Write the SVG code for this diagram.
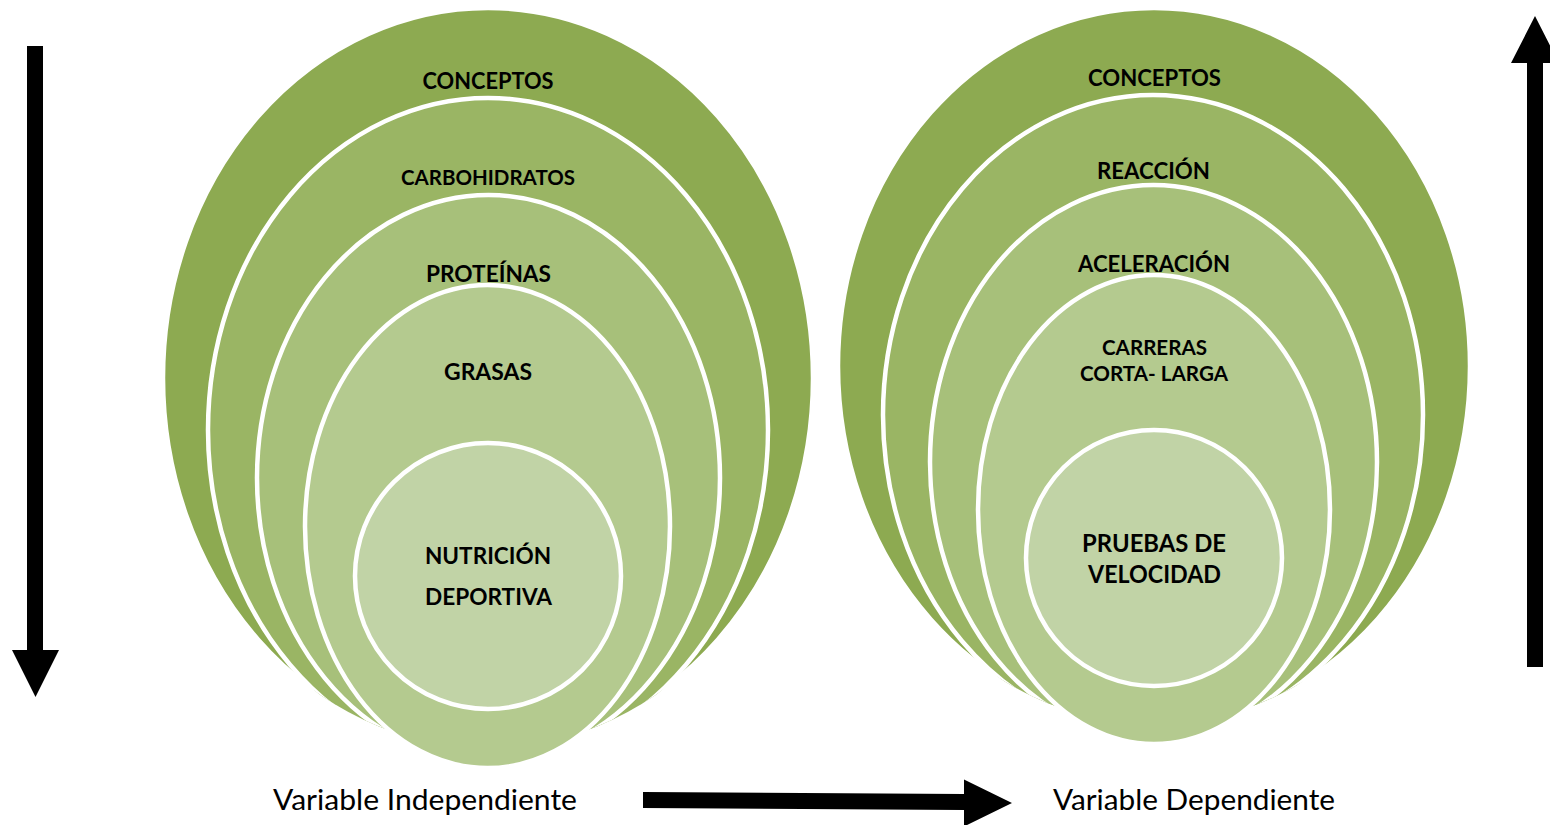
<svg xmlns="http://www.w3.org/2000/svg" width="1550" height="825" viewBox="0 0 1550 825">
  <style>
    .ring { stroke: #FFFFFF; stroke-width: 4.5; }
    .c1 { fill: #8DAA51; }
    .c2 { fill: #9AB564; }
    .c3 { fill: #A7C07A; }
    .c4 { fill: #B4CA8F; }
    .c5 { fill: #C1D3A6; }
    .t { font-family: Lato, "Liberation Sans", sans-serif; font-weight: bold; fill: #000000; text-anchor: middle; }
    .s21 { font-size: 21px; }
    .s23 { font-size: 23px; }
    .s25 { font-size: 24.5px; }
    .lbl { font-family: Lato, "Liberation Sans", sans-serif; font-size: 28px; fill: #000000; }
    .arrow { fill: #000000; }
  </style>
  <defs>
    <clipPath id="clipL">
      <ellipse cx="488" cy="378" rx="325" ry="370"/>
    </clipPath>
    <clipPath id="clipR">
      <ellipse cx="1154" cy="366" rx="316" ry="358"/>
    </clipPath>
  </defs>
  <rect width="1550" height="825" fill="#FFFFFF"/>

  <!-- Left stack -->
  <g id="left-conceptos">
    <ellipse class="ring c1" cx="488" cy="378" rx="325" ry="370"/>
    <text class="t s23" x="488" y="89" textLength="131" lengthAdjust="spacingAndGlyphs">CONCEPTOS</text>
  </g>
  <g id="left-carbohidratos" clip-path="url(#clipL)">
    <ellipse class="ring c2" cx="488" cy="430" rx="280" ry="332"/>
    <text class="t s21" x="488" y="185" textLength="174" lengthAdjust="spacingAndGlyphs">CARBOHIDRATOS</text>
  </g>
  <g id="left-proteinas" clip-path="url(#clipL)">
    <ellipse class="ring c3" cx="488.5" cy="478" rx="231.5" ry="283"/>
    <text class="t s23" x="488.5" y="282" textLength="125" lengthAdjust="spacingAndGlyphs">PROTEÍNAS</text>
  </g>
  <g id="left-grasas">
    <ellipse class="ring c4" cx="487.5" cy="526.5" rx="182.5" ry="241.5"/>
    <text class="t s23" x="488" y="380" textLength="88" lengthAdjust="spacingAndGlyphs">GRASAS</text>
  </g>
  <g id="left-nutricion">
    <circle class="ring c5" cx="488" cy="576" r="133"/>
    <text class="t s23" x="488" y="564" textLength="126" lengthAdjust="spacingAndGlyphs">NUTRICIÓN</text>
    <text class="t s23" x="488.5" y="605" textLength="127" lengthAdjust="spacingAndGlyphs">DEPORTIVA</text>
  </g>

  <!-- Right stack -->
  <g id="right-conceptos">
    <ellipse class="ring c1" cx="1154" cy="366" rx="316" ry="358"/>
    <text class="t s23" x="1154.5" y="86" textLength="133" lengthAdjust="spacingAndGlyphs">CONCEPTOS</text>
  </g>
  <g id="right-reaccion" clip-path="url(#clipR)">
    <ellipse class="ring c2" cx="1153" cy="415" rx="270" ry="320"/>
    <text class="t s23" x="1153.5" y="179" textLength="113" lengthAdjust="spacingAndGlyphs">REACCIÓN</text>
  </g>
  <g id="right-aceleracion" clip-path="url(#clipR)">
    <ellipse class="ring c3" cx="1153.5" cy="462" rx="223.5" ry="277"/>
    <text class="t s23" x="1154" y="272" textLength="152" lengthAdjust="spacingAndGlyphs">ACELERACIÓN</text>
  </g>
  <g id="right-carreras">
    <ellipse class="ring c4" cx="1154" cy="509.5" rx="176" ry="234.5"/>
    <text class="t s21" x="1154.5" y="355" textLength="105" lengthAdjust="spacingAndGlyphs">CARRERAS</text>
    <text class="t s21" x="1154" y="381" textLength="148" lengthAdjust="spacingAndGlyphs">CORTA- LARGA</text>
  </g>
  <g id="right-pruebas">
    <circle class="ring c5" cx="1154" cy="558" r="128"/>
    <text class="t s25" x="1154" y="552" textLength="144" lengthAdjust="spacingAndGlyphs">PRUEBAS DE</text>
    <text class="t s25" x="1154.5" y="583" textLength="133" lengthAdjust="spacingAndGlyphs">VELOCIDAD</text>
  </g>

  <!-- Bottom labels -->
  <g id="label-independiente">
    <text class="lbl" x="273" y="810" textLength="304" lengthAdjust="spacingAndGlyphs">Variable Independiente</text>
  </g>
  <g id="label-dependiente">
    <text class="lbl" x="1053" y="810" textLength="282" lengthAdjust="spacingAndGlyphs">Variable Dependiente</text>
  </g>

  <!-- Connectors / arrows -->
  <g id="connectors">
    <polygon class="arrow" points="27,46 43,46 43,650 59,650 35.5,697 12,650 27,650"/>
    <polygon class="arrow" points="1527,667 1543,667 1543,63 1559,63 1535,16 1511,63 1527,63"/>
    <polygon class="arrow" points="643,792 964,794 964,779.5 1012,803 964,826.5 964,810 643,808"/>
  </g>
</svg>
